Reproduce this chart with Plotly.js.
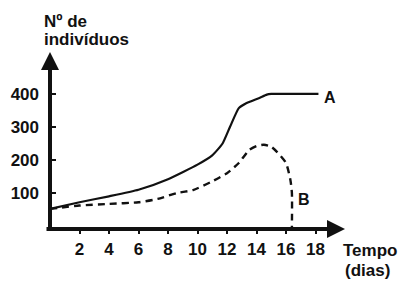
<!DOCTYPE html>
<html>
<head>
<meta charset="utf-8">
<script src="https://cdn.plot.ly/plotly-3.0.1.min.js"></script>
<style>html,body{margin:0;padding:0;background:#fff;}#chart{width:401px;height:284px;}</style>
</head>
<body>
<div id="chart"></div>
<script>
// Curve A (solid)
const daysA = [0, 2, 4, 6, 8, 10, 11, 11.7, 12.2, 12.8, 13.3, 14.2, 14.7, 15, 18.2];
const valuesA = [52, 72, 90, 110, 142, 186, 214, 250, 300, 357, 372, 388, 398, 400, 400];
// Curve B (dashed)
const daysB = [0, 2, 4, 6, 7.3, 8.6, 9.7, 10.9, 12, 12.8, 13.5, 14, 14.5, 15, 15.4, 16, 16.3, 16.4, 16.4];
const valuesB = [52, 62, 67, 72, 82, 100, 109, 133, 160, 191, 230, 242, 246, 240, 224, 191, 139, 100, -5];
// Ticks
const xTicks = [2, 4, 6, 8, 10, 12, 14, 16, 18];
const yTicks = [100, 200, 300, 400];
const seriesNames = ["A", "B"];

const F = "Liberation Sans, Arial, sans-serif";
const data = [
  {x: daysA, y: valuesA, mode: "lines", name: seriesNames[0],
   line: {color: "#111", width: 2.2, shape: "spline", smoothing: 0.5}},
  {x: daysB, y: valuesB, mode: "lines", name: seriesNames[1],
   line: {color: "#111", width: 2.4, dash: "7px,5px", shape: "spline", smoothing: 0.6}}
];
function label(txt, x, y, xanchor) {
  return {x: x, y: y, xref: "paper", yref: "paper", xanchor: xanchor, yanchor: "middle",
    text: "<b>" + txt + "</b>", showarrow: false, font: {family: F, size: 17, color: "#111"}};
}
const layout = {
  width: 401, height: 284,
  margin: {l: 50, r: 56, t: 52, b: 55},
  paper_bgcolor: "#fff", plot_bgcolor: "rgba(0,0,0,0)",
  showlegend: false,
  font: {family: F, size: 17, color: "#111"},
  xaxis: {range: [0, 20], showgrid: false, zeroline: false, showline: false,
    tickvals: xTicks, ticktext: xTicks.map(String), ticks: "outside", ticklen: 4, tickwidth: 2,
    tickcolor: "#111", tickfont: {family: F, size: 17, weight: "bold", color: "#111"}, ticklabelstandoff: 1},
  yaxis: {range: [-9, 527], showgrid: false, zeroline: false, showline: false,
    tickvals: yTicks, ticktext: yTicks.map(String), ticks: "inside", ticklen: 6, tickwidth: 2,
    tickcolor: "#111", tickfont: {family: F, size: 17, weight: "bold", color: "#111"}, ticklabelstandoff: 10},
  annotations: [
    // y axis arrow
    {x: 0, y: 527, xref: "x", yref: "y", ax: 0, ay: 179, axref: "pixel", ayref: "pixel",
     showarrow: true, arrowhead: 2, arrowsize: 0.9, arrowwidth: 4, arrowcolor: "#111", text: "", standoff: 0},
    // x axis arrow
    {x: 20, y: -9, xref: "x", yref: "y", ax: -300, ay: 0, axref: "pixel", ayref: "pixel",
     showarrow: true, arrowhead: 2, arrowsize: 0.9, arrowwidth: 4, arrowcolor: "#111", text: "", standoff: 0},
    {x: 18.95, y: 388, xref: "x", yref: "y", text: "<b>" + seriesNames[0] + "</b>", showarrow: false,
     font: {family: F, size: 16, color: "#111"}},
    {x: 17.25, y: 79, xref: "x", yref: "y", text: "<b>" + seriesNames[1] + "</b>", showarrow: false,
     font: {family: F, size: 16, color: "#111"}},
    label("Nº de", -0.027, 1.175, "left"),
    label("indivíduos", -0.027, 1.07, "left"),
    label("Tempo", 1.085, -0.12, "center"),
    label("(dias)", 1.075, -0.235, "center")
  ]
};
Plotly.newPlot("chart", data, layout, {displayModeBar: false, staticPlot: true});
</script>
</body>
</html>
